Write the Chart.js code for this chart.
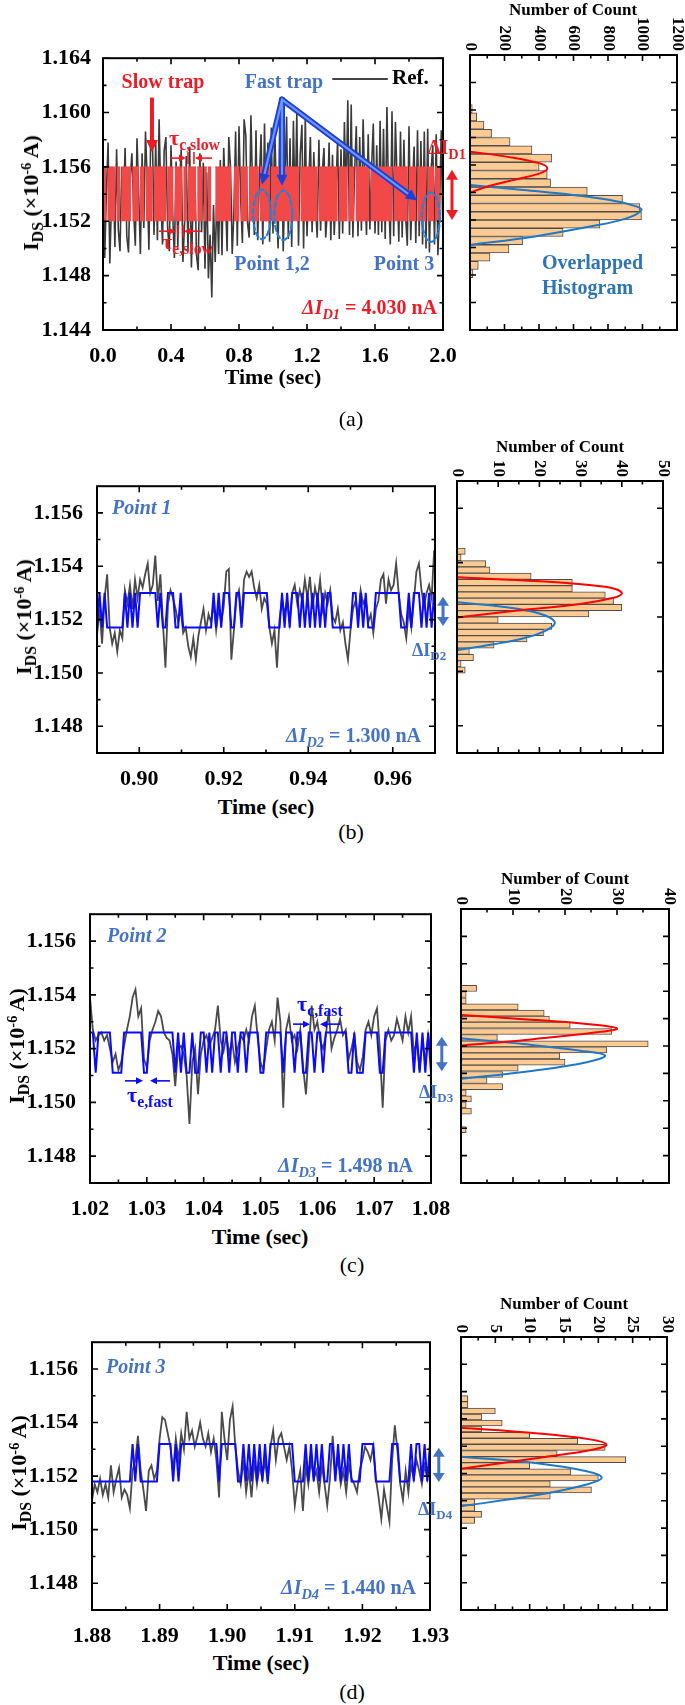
<!DOCTYPE html>
<html>
<head>
<meta charset="utf-8">
<script src="https://cdn.jsdelivr.net/npm/chart.js@4/dist/chart.umd.min.js"></script>
<style>
  html, body { margin: 0; padding: 0; background: #fff; }
  body { position: relative; width: 685px; height: 1705px; overflow: hidden; font-family: "Liberation Serif", "Times New Roman", serif; }
  canvas { position: absolute; }
  .t { position: absolute; white-space: nowrap; font-weight: bold; font-size: 20px; line-height: 1; z-index: 5; }
  .t sub { font-size: 0.72em; vertical-align: baseline; position: relative; top: 0.32em; }
  .t sup { font-size: 0.65em; vertical-align: baseline; position: relative; top: -0.5em; }
</style>
</head>
<body>
<script>
// ---------- (a) full 2 s record ----------
var tA = [0, 0.01];                 // first sample, step (sec)
var grayA = [                       // nA
  1156.8,1149.3,1154.2,1157.8,1148.9,1153.5,1156.0,1150.1,1157.3,1151.4,
  1149.8,1156.0,1153.1,1157.4,1150.9,1149.7,1155.2,1157.0,1152.8,1150.2,
  1158.1,1154.0,1149.6,1157.0,1151.5,1158.6,1155.0,1149.9,1157.6,1158.9,
  1151.0,1157.9,1150.6,1159.5,1153.8,1150.3,1157.2,1158.2,1151.6,1149.8,
  1157.6,1152.5,1149.3,1156.4,1150.1,1154.6,1157.3,1149.0,1151.9,1156.8,
  1149.8,1157.5,1148.6,1153.4,1155.8,1149.5,1148.4,1157.0,1151.2,1156.3,
  1148.5,1155.6,1147.8,1151.0,1146.4,1153.2,1149.0,1154.0,1149.6,1156.5,
  1149.5,1157.4,1154.1,1149.8,1158.2,1156.0,1149.6,1152.7,1158.6,1150.2,
  1159.0,1153.6,1150.4,1159.5,1158.3,1151.9,1150.8,1159.8,1154.4,1151.0,
  1158.7,1150.6,1155.3,1158.4,1150.3,1159.2,1152.0,1157.8,1150.5,1158.9,
  1151.1,1159.1,1153.7,1150.0,1159.9,1158.6,1149.8,1155.0,1159.7,1150.7,
  1158.1,1150.1,1159.4,1152.6,1160.0,1150.2,1156.9,1159.1,1150.0,1159.8,
  1150.9,1154.8,1158.2,1151.2,1157.1,1153.3,1150.8,1158.0,1151.3,1155.6,
  1157.4,1150.8,1152.9,1157.8,1150.6,1156.9,1151.0,1154.2,1158.0,1150.7,
  1157.3,1151.1,1159.3,1153.5,1160.9,1151.0,1160.6,1150.8,1155.7,1159.0,
  1150.9,1158.2,1151.3,1159.5,1154.6,1151.0,1158.4,1151.4,1156.0,1159.2,
  1151.1,1157.6,1151.0,1159.4,1151.2,1158.8,1150.7,1160.4,1153.9,1150.3,
  1160.1,1150.9,1159.3,1155.1,1150.5,1158.6,1150.8,1158.0,1152.4,1150.2,
  1159.0,1150.6,1154.3,1157.5,1150.4,1158.7,1150.9,1157.9,1150.3,1158.6,
  1150.0,1158.8,1149.7,1155.8,1157.6,1150.3,1158.4,1149.5,1153.1,1158.7,1150.1
];
var redLevels = [1.152, 1.156];
var redSpan = [0.006, 1.986];
var redGaps = [[0.019,0.025],[0.074,0.080],[0.101,0.107],[0.166,0.172],[0.211,0.217],[0.244,0.250],
  [0.293,0.299],[0.372,0.378],[0.415,0.421],[0.466,0.472],[0.493,0.499],[0.548,0.554],[0.587,0.593],
  [0.611,0.617],[0.637,0.660],[0.754,0.760],[0.764,0.770],[0.803,0.809],[0.852,0.858],[0.917,0.923],
  [0.982,0.988],[1.155,1.161],[1.263,1.269],[1.381,1.387],[1.440,1.446],[1.479,1.485],[1.567,1.573],
  [1.704,1.710],[1.793,1.799],[1.842,1.848],[1.901,1.907],[1.947,1.953]];
var ticksXA = [0, 0.4, 0.8, 1.2, 1.6, 2.0];
var ticksYA = [1.144, 1.148, 1.152, 1.156, 1.160, 1.164];
var binsA = [1.1601,1.1595,1.1589,1.1583,1.1577,1.1571,1.1565,1.1559,1.1553,1.1547,1.1541,
  1.1535,1.1529,1.1523,1.1517,1.1511,1.1505,1.1499,1.1493,1.1487,1.1481];
var countsA = [13,39,81,125,232,359,473,401,448,467,680,884,985,994,753,540,305,226,116,48,17];
var redFitA = [[1.15697,0],[1.15661,212],[1.15612,405],[1.15576,448],[1.15539,405],[1.15491,251],[1.15442,97],[1.15399,0]];
var blueFitA = [[1.15455,0],[1.15418,309],[1.15382,598],[1.15345,811],[1.15309,936],[1.15273,994],[1.15212,907],[1.15152,695],[1.15079,367],[1.15018,0]];
var countTicksA = [0, 200, 400, 600, 800, 1000, 1200];
var histYA = [1.146,1.148,1.150,1.152,1.154,1.156,1.158,1.160,1.162];

// ---------- (b) Point 1 ----------
var tB = [0.89, 0.0006];
var grayB = [
  1151.4,1152.4,1151.1,1152.8,1153.7,1151.7,1151.1,1151.5,1150.8,1151.6,
  1151.3,1153.1,1152.6,1153.3,1152.4,1153.5,1152.8,1153.5,1153.2,1153.7,
  1154.1,1153.0,1153.3,1154.4,1152.7,1153.7,1151.9,1150.2,1152.6,1153.1,
  1152.8,1152.4,1151.9,1152.4,1151.5,1151.7,1151.0,1150.6,1151.3,1150.5,
  1151.4,1151.9,1152.4,1151.6,1152.2,1151.9,1152.6,1151.6,1152.4,1151.9,
  1152.5,1153.8,1153.9,1150.5,1151.6,1152.8,1153.1,1152.0,1153.5,1153.8,
  1153.6,1153.8,1153.2,1152.8,1153.3,1152.4,1152.8,1152.6,1151.7,1151.1,
  1151.6,1150.2,1152.0,1152.8,1152.2,1152.7,1151.9,1153.0,1153.3,1152.6,
  1153.1,1152.7,1153.5,1152.8,1153.6,1152.4,1153.2,1152.7,1153.5,1152.4,
  1153.0,1152.6,1153.1,1152.1,1151.9,1152.4,1151.6,1151.9,1151.1,1150.5,
  1151.6,1152.4,1152.7,1152.1,1153.1,1152.6,1152.8,1151.9,1152.2,1151.5,
  1152.4,1152.7,1153.5,1153.7,1152.6,1153.5,1153.1,1153.3,1154.1,1153.0,
  1152.2,1151.9,1151.3,1152.4,1151.7,1152.7,1153.8,1154.1,1153.1,1152.5,
  1153.0,1153.3,1152.8,1154.6
];
var rtnB = [0,1,0,1,0,0,0,0,0,0,0, 1,0,1,0,1,0,1,1,1, 1,1,1,1,0,1,0,0,1,1, 1,0,0,1,0,0,0,
  0,0,0,0,0,0,0,0, 0,1,0,1,0,1,1,1,0,0,1,1,0, 1,1,1,1,1,1,1,1,1,1,0, 0,0,0,0,
  1,0,1,0,1,1,1,0,1,0,1,0,1,0,1,0,1,0,1,1, 0,0,0,0,0,0,0,0, 1,1,0,1,0,1,0,0,0,1,
  1,1,1,1,1,1,1,1,1, 0,0,0,1,0, 1,1,1,0,1,0,1,0,1];
var levelsB = [1.1517, 1.1530];
var ticksXB = [0.90, 0.92, 0.94, 0.96];
var ticksY = [1.148, 1.150, 1.152, 1.154, 1.156];
var binsB = [1.15442,1.15419,1.15396,1.15373,1.15350,1.15327,1.15304,1.15281,1.15258,1.15235,
  1.15212,1.15189,1.15166,1.15143,1.15120,1.15097,1.15074,1.15051,1.15028,1.15005];
var countsB = [2,1,7,8,18,28,28,36,38,40,32,10,23,21,17,9,3,4,1,2];
var redFitB = [[1.15346,0],[1.15331,20.2],[1.15313,34.8],[1.15301,38.8],[1.15286,40],[1.15271,38],[1.15248,29.9],[1.15224,14.6],[1.15198,0]];
var blueFitB = [[1.15254,0],[1.15236,12.1],[1.15212,20.2],[1.15182,23.7],[1.15152,21.8],[1.15122,16.2],[1.15098,8.1],[1.15078,0]];
var countTicksB = [0, 10, 20, 30, 40, 50];

// ---------- (c) Point 2 ----------
var tC = [1.02, 0.0005];
var grayC = [
  1153.9,1152.7,1152.3,1152.5,1152.6,1152.3,1152.5,1152.0,1151.5,1151.8,
  1151.2,1151.5,1152.1,1152.7,1153.2,1153.9,1154.2,1153.2,1153.5,1151.6,
  1151.3,1152.3,1152.7,1153.0,1153.4,1153.2,1152.6,1152.4,1152.3,1151.8,
  1150.6,1152.0,1152.1,1151.8,1151.0,1149.2,1151.5,1152.0,1150.3,1151.8,
  1152.3,1152.5,1152.1,1152.4,1152.7,1153.6,1152.3,1151.9,1152.5,1151.8,
  1152.3,1151.5,1152.0,1152.5,1152.3,1152.7,1152.3,1153.2,1153.6,1152.4,
  1151.5,1151.2,1152.0,1152.7,1153.0,1152.3,1153.9,1153.0,1149.8,1152.7,
  1153.2,1152.3,1152.5,1152.0,1152.7,1151.3,1150.3,1152.0,1153.6,1152.7,
  1153.0,1152.3,1152.0,1152.5,1153.4,1152.0,1152.4,1152.7,1153.1,1152.5,
  1152.7,1151.6,1152.0,1152.5,1151.5,1151.2,1151.7,1152.7,1153.0,1152.5,
  1153.2,1153.5,1152.0,1149.8,1152.3,1152.7,1152.3,1152.5,1153.1,1152.7,
  1152.3,1153.2,1152.6,1153.2,1151.8,1152.3,1151.2,1152.3,1151.5,1152.5,
  1151.8
];
var rtnC = [1,1,0,1,1,1,1,1,0,0,0,0, 1,1,1,1,1,1,1, 0,0, 1,1,1,1,1,1,1,1,1,
  0,1,0,1,0,0,1,0,0,1, 1,0,1,0,1,1,0,1,1,0, 1,1,0,1,1,0,1,1,1,1, 0,0,1,1,1,1,1,1,0,1,
  1,1,0,1,1,0,0,1,1,0, 1,1,0,1,1,1,1,1,1,1, 1,0,0,1,0,0,0,1,1,1, 1,1,0,0,1,1,1,1,1,1,
  1,1,1,1,0,1,0,1,0,1,0];
var levelsC = [1.1511, 1.1526];
var ticksXC = [1.02, 1.03, 1.04, 1.05, 1.06, 1.07, 1.08];
var binsC = [1.15410,1.15388,1.15365,1.15343,1.15320,1.15298,1.15276,1.15253,1.15231,1.15208,1.15186,1.15164,
  1.15141,1.15119,1.15096,1.15074,1.15052,1.15029,1.15007,1.14985,1.14962,1.14940,1.14918,1.14895];
var countsC = [3,1,1,11,16,17,21,29,7,36,28,19,20,11,8,5,8,1,2,1,2,0,0,1];
var redFitC = [[1.15313,0],[1.15298,12],[1.15280,24.2],[1.15264,30],[1.15250,26.1],[1.15225,13.9],[1.15201,0]];
var blueFitC = [[1.15228,0],[1.15207,12],[1.15183,22.9],[1.15165,27.7],[1.15141,24.2],[1.15110,13.9],[1.15080,0]];
var countTicksC = [0, 10, 20, 30, 40];
var histYCD = [1.148,1.149,1.150,1.151,1.152,1.153,1.154,1.155,1.156];

// ---------- (d) Point 3 ----------
var tD = [1.88, 0.0004];
var grayD = [
  1151.1,1151.7,1151.4,1151.9,1151.3,1151.7,1151.2,1152.4,1151.4,1151.9,
  1152.3,1151.2,1151.5,1151.3,1150.8,1152.2,1152.6,1153.5,1152.2,1151.5,
  1150.7,1152.2,1152.4,1151.9,1152.2,1153.4,1154.2,1154.1,1153.6,1153.1,
  1152.2,1153.4,1152.6,1153.6,1153.0,1154.4,1153.4,1153.7,1153.1,1153.5,
  1154.0,1153.4,1153.1,1153.6,1152.9,1153.4,1152.6,1151.2,1154.4,1153.4,
  1152.6,1154.1,1154.6,1153.1,1152.2,1151.7,1152.6,1151.4,1152.2,1151.2,
  1152.6,1151.7,1152.4,1151.9,1152.6,1151.7,1153.1,1153.7,1152.6,1153.4,
  1153.6,1153.1,1152.6,1153.1,1152.2,1150.9,1151.7,1152.2,1150.7,1152.4,
  1151.7,1152.6,1151.9,1152.2,1151.4,1152.4,1151.7,1150.9,1151.9,1153.5,
  1152.2,1152.6,1151.7,1152.2,1151.4,1152.4,1151.9,1151.7,1151.4,1152.2,
  1152.6,1153.1,1152.9,1152.6,1153.1,1151.9,1151.2,1150.4,1151.5,1150.9,
  1150.3,1152.6,1153.9,1152.9,1151.7,1151.1,1152.2,1151.4,1152.4,1151.9,
  1152.6,1152.2,1151.7,1152.4,1151.9,1152.6
];
var rtnD = [0,0,0,0,0,0,0,0,0,0,0,0,0,0,0, 1,0,1,0,0,0,0,0,0,0, 1,1,1,1,1, 0,1,0,1,1,
  1,1,1,1,1,1,1,1,1,1,1,1, 0, 1,1,1,1,1,1, 0,0,1,0,1,0,1,0,1,0,1,0, 1,1,1,1,1,1,1,1,1,
  0,0,0,0, 1,0,1,0,1,0,1,0,0,1, 1,0,1,0,1,0,1,0,0,0,0, 1,1,1,1,1, 0,0,0,0,0,0, 1,1,1,
  0,0,0,0, 1,0,1,1,0,1,0,1];
var levelsD = [1.1518, 1.1532];
var ticksXD = [1.88, 1.89, 1.90, 1.91, 1.92, 1.93];
var binsD = [1.15474,1.15452,1.15429,1.15407,1.15385,1.15363,1.15340,1.15318,1.15296,1.15273,1.15251,
  1.15229,1.15206,1.15184,1.15162,1.15140,1.15117,1.15095,1.15073,1.15050,1.15028];
var countsD = [1,1,5,3,6,3,10,17,21,14,24,10,16,20,13,19,13,2,2,3,2];
var redFitD = [[1.15368,0],[1.15349,10.1],[1.15325,18.8],[1.15306,21.2],[1.15288,19.3],[1.15258,11.5],[1.15217,0]];
var blueFitD = [[1.15261,0],[1.15239,10.5],[1.15208,18.3],[1.15184,20.5],[1.15160,18.3],[1.15123,11.5],[1.15080,0]];
var countTicksD = [0, 5, 10, 15, 20, 25, 30];

// ---------- helpers ----------
var FONT = '"Liberation Serif", "Times New Roman", serif';
var TICKFONT = { family: FONT, size: 22, weight: 'bold' };
var RED = '#ed1c24', BLUET = '#4472c4', RTNBLUE = '#0a0aff', GRAY = '#4a4a4a';

function series(t, vals) { return vals.map(function (v, i) { return { x: t[0] + i * t[1], y: v / 1000 }; }); }
function rtn(t, st, lv) { return st.map(function (s, i) { return { x: t[0] + i * t[1], y: lv[s] }; }); }
function bars(b, c) { return b.map(function (v, i) { return { x: c[i], y: v }; }); }
function fit(p) { return p.map(function (q) { return { x: q[1], y: q[0] }; }); }
function band() {
  var pts = [], cur = redSpan[0];
  redGaps.concat([[redSpan[1], redSpan[1]]]).forEach(function (g) {
    pts.push({ x: cur, y: redLevels[1] }, { x: g[0], y: redLevels[1] }, { x: g[0], y: null });
    cur = g[1];
  });
  return pts;
}

function place(box, m) {
  var cv = document.createElement('canvas');
  cv.width = box[2] - box[0] + m[0] + m[2];
  cv.height = box[3] - box[1] + m[1] + m[3];
  cv.style.left = (box[0] - m[0]) + 'px';
  cv.style.top = (box[1] - m[1]) + 'px';
  document.body.appendChild(cv);
  return cv;
}

function minors(lo, hi, step, majors) {
  var out = [];
  if (!step) return out;
  var n = Math.round((hi - lo) / step);
  for (var i = 1; i < n; i++) {
    var v = lo + i * step;
    if (!majors.some(function (m) { return Math.abs(m - v) < step / 10; })) out.push(v);
  }
  return out;
}

function frame(cfg) {
  return {
    id: 'frame',
    afterDatasetsDraw: function (chart) {
      var a = chart.chartArea, ctx = chart.ctx, sx = chart.scales.x, sy = chart.scales.y;
      ctx.save();
      ctx.strokeStyle = '#000';
      ctx.lineWidth = 1.6;
      ctx.beginPath();
      function xt(v, len) { var p = sx.getPixelForValue(v); ctx.moveTo(p, a.bottom); ctx.lineTo(p, a.bottom - len); ctx.moveTo(p, a.top); ctx.lineTo(p, a.top + len); }
      function yt(v, len) { var p = sy.getPixelForValue(v); ctx.moveTo(a.left, p); ctx.lineTo(a.left + len, p); ctx.moveTo(a.right, p); ctx.lineTo(a.right - len, p); }
      cfg.xMajor.forEach(function (v) { xt(v, 6); });
      minors(sx.min, sx.max, cfg.xMinor, cfg.xMajor).forEach(function (v) { xt(v, 3.5); });
      cfg.yMajor.forEach(function (v) { yt(v, 6); });
      minors(sy.min, sy.max, cfg.yMinor, cfg.yMajor).forEach(function (v) { yt(v, 3.5); });
      ctx.stroke();
      ctx.lineWidth = 2;
      ctx.strokeRect(a.left, a.top, a.right - a.left, a.bottom - a.top);
      ctx.restore();
    }
  };
}

function topLabels(vals) {
  return {
    id: 'toplab',
    afterDraw: function (chart) {
      var ctx = chart.ctx, sx = chart.scales.x, top = chart.chartArea.top;
      ctx.save();
      ctx.font = 'bold 17px ' + FONT;
      ctx.fillStyle = '#000';
      ctx.textAlign = 'right';
      ctx.textBaseline = 'middle';
      vals.forEach(function (v) {
        ctx.save();
        ctx.translate(sx.getPixelForValue(v), top - 4);
        ctx.rotate(Math.PI / 2);
        ctx.fillText(String(v), 0, 0);
        ctx.restore();
      });
      ctx.restore();
    }
  };
}

function head(ctx, x, y, a, len, hw) {
  var c = Math.cos(a), s = Math.sin(a);
  ctx.beginPath();
  ctx.moveTo(x, y);
  ctx.lineTo(x - c * len - s * hw, y - s * len + c * hw);
  ctx.lineTo(x - c * len + s * hw, y - s * len - c * hw);
  ctx.closePath();
  ctx.fill();
}
function arrow(ctx, x1, y1, x2, y2, col, lw, len, hw, both) {
  var a = Math.atan2(y2 - y1, x2 - x1), c = Math.cos(a), s = Math.sin(a);
  ctx.strokeStyle = col; ctx.fillStyle = col; ctx.lineWidth = lw;
  ctx.beginPath();
  ctx.moveTo(both ? x1 + c * len * 0.8 : x1, both ? y1 + s * len * 0.8 : y1);
  ctx.lineTo(x2 - c * len * 0.8, y2 - s * len * 0.8);
  ctx.stroke();
  head(ctx, x2, y2, a, len, hw);
  if (both) head(ctx, x1, y1, a + Math.PI, len, hw);
}
function tauMark(ctx, X, Y, v, l, r, barsAt, col) {
  arrow(ctx, X(l[0]), Y(v), X(l[1]), Y(v), col, 1.6, 7, 3.5);
  arrow(ctx, X(r[0]), Y(v), X(r[1]), Y(v), col, 1.6, 7, 3.5);
  ctx.beginPath();
  barsAt.forEach(function (b) { ctx.moveTo(X(b), Y(v) - 6); ctx.lineTo(X(b), Y(v) + 6); });
  ctx.stroke();
}

function ann(fn) {
  return {
    id: 'ann',
    afterDatasetsDraw: function (chart) {
      var ctx = chart.ctx;
      ctx.save();
      fn(ctx, function (v) { return chart.scales.x.getPixelForValue(v); },
              function (v) { return chart.scales.y.getPixelForValue(v); });
      ctx.restore();
    }
  };
}

function traceChart(box, o) {
  var m = [75, 14, 30, 36];
  var cv = place(box, m);
  return new Chart(cv, {
    type: 'line',
    data: { datasets: o.datasets },
    options: {
      responsive: false, animation: false, devicePixelRatio: 1,
      layout: { padding: { left: 0, top: m[1], right: m[2], bottom: 0 } },
      plugins: { legend: { display: false }, tooltip: { enabled: false } },
      elements: { point: { radius: 0 }, line: { tension: 0 } },
      scales: {
        x: {
          type: 'linear', min: o.xr[0], max: o.xr[1],
          grid: { display: false }, border: { display: false },
          afterBuildTicks: function (s) { s.ticks = o.xt.map(function (v) { return { value: v }; }); },
          afterFit: function (s) { s.height = m[3]; },
          ticks: { autoSkip: false, maxRotation: 0, padding: 5, color: '#000', font: TICKFONT,
                   callback: function (v) { return v.toFixed(o.xd); } }
        },
        y: {
          type: 'linear', min: o.yr[0], max: o.yr[1],
          grid: { display: false }, border: { display: false },
          afterBuildTicks: function (s) { s.ticks = o.yt.map(function (v) { return { value: v }; }); },
          afterFit: function (s) { s.width = m[0]; },
          ticks: { autoSkip: false, padding: o.ypad, color: '#000', font: TICKFONT,
                   callback: function (v) { return v.toFixed(3); } }
        }
      }
    },
    plugins: [frame({ xMajor: o.xt, xMinor: o.xMinor, yMajor: o.yt, yMinor: o.yMinor }), ann(o.ann)]
  });
}

function histChart(box, o) {
  var m = [4, 52, 12, 6];
  var cv = place(box, m);
  return new Chart(cv, {
    type: 'bar',
    data: {
      datasets: [
        { type: 'line', data: fit(o.red), borderColor: '#ff0000', borderWidth: 2, tension: 0.4, pointRadius: 0, order: 1 },
        { type: 'line', data: fit(o.blue), borderColor: '#1f78c8', borderWidth: 2, tension: 0.4, pointRadius: 0, order: 2 },
        { type: 'bar', data: bars(o.bins, o.counts), backgroundColor: '#fdca91', borderColor: '#4d4d4d',
          borderWidth: 1, borderSkipped: false, barPercentage: 1, categoryPercentage: 1, order: 3 }
      ]
    },
    options: {
      indexAxis: 'y', responsive: false, animation: false, devicePixelRatio: 1,
      layout: { padding: { left: m[0], top: m[1], right: m[2], bottom: m[3] } },
      plugins: { legend: { display: false }, tooltip: { enabled: false } },
      scales: {
        x: { type: 'linear', display: false, offset: false, min: 0, max: o.xt[o.xt.length - 1] },
        y: { type: 'linear', display: false, offset: false, min: o.yr[0], max: o.yr[1] }
      }
    },
    plugins: [frame({ xMajor: o.xt, xMinor: o.xMinor, yMajor: o.yt, yMinor: 0 }), topLabels(o.xt)]
  });
}

function txt(html, x, y, css, align) {
  var d = document.createElement('div');
  d.className = 't';
  d.innerHTML = html;
  if (css) d.style.cssText = css;
  d.style.left = x + 'px';
  d.style.top = y + 'px';
  var tx = align === 'l' ? '0' : (align === 'r' ? '-100%' : '-50%');
  d.style.transform = align === 'rot' ? 'translate(-50%,-50%) rotate(-90deg)' : 'translate(' + tx + ',-50%)';
  document.body.appendChild(d);
}

function rtnSets(gray, rtnLine) {
  return [
    { data: rtnLine, borderColor: RTNBLUE, borderWidth: 2, order: 1 },
    { data: gray, borderColor: GRAY, borderWidth: 1.8, order: 2 }
  ];
}

// ---------- (a) ----------
traceChart([103, 55, 443, 330], {
  xr: [0, 2], yr: [1.144, 1.164], xt: ticksXA, yt: ticksYA, xd: 1, ypad: 4, xMinor: 0.2, yMinor: 0.002,
  datasets: [
    { data: band(), borderColor: '#f24848', backgroundColor: '#f24848', borderWidth: 1,
      fill: { value: redLevels[0] }, spanGaps: false, order: 1 },
    { data: series(tA, grayA), borderColor: '#3a3a3a', borderWidth: 1.6, order: 2 }
  ],
  ann: function (ctx, X, Y) {
    arrow(ctx, X(0.288), Y(1.1611), X(0.288), Y(1.1571), RED, 4, 12, 6);
    tauMark(ctx, X, Y, 1.15665, [0.394, 0.488], [0.641, 0.541], [0.500, 0.535], RED);
    tauMark(ctx, X, Y, 1.15127, [0.329, 0.429], [0.576, 0.476], [0.441, 0.471], RED);
    // fast trap pointers
    var s = [X(1.053), Y(1.16095)];
    var ends = [[0.935, 1.15469], [1.053, 1.15462], [1.847, 1.15353]];
    ctx.lineCap = 'round';
    ends.forEach(function (e) {
      var x2 = X(e[0]), y2 = Y(e[1]), a = Math.atan2(y2 - s[1], x2 - s[0]);
      ctx.strokeStyle = '#1d3fd8'; ctx.lineWidth = 6;
      ctx.beginPath(); ctx.moveTo(s[0], s[1]); ctx.lineTo(x2 - 8 * Math.cos(a), y2 - 8 * Math.sin(a)); ctx.stroke();
    });
    ends.forEach(function (e) {
      var x2 = X(e[0]), y2 = Y(e[1]), a = Math.atan2(y2 - s[1], x2 - s[0]);
      ctx.strokeStyle = '#6b95f7'; ctx.lineWidth = 2.2;
      ctx.beginPath(); ctx.moveTo(s[0], s[1]); ctx.lineTo(x2 - 8 * Math.cos(a), y2 - 8 * Math.sin(a)); ctx.stroke();
      ctx.fillStyle = '#1d3fd8'; head(ctx, x2, y2, a, 11, 5.5);
    });
    // dashed ellipses
    ctx.setLineDash([5, 3]);
    ctx.strokeStyle = '#2a7fd4'; ctx.lineWidth = 2.2;
    [[0.935, 1.15251], [1.061, 1.15244], [1.929, 1.1523]].forEach(function (e) {
      ctx.beginPath();
      ctx.ellipse(X(e[0]), Y(e[1]), X(e[0] + 0.053) - X(e[0]), Y(e[1]) - Y(e[1] + 0.00182), 0, 0, Math.PI * 2);
      ctx.stroke();
    });
    ctx.setLineDash([]);
    // legend line
    ctx.strokeStyle = '#444'; ctx.lineWidth = 2;
    ctx.beginPath(); ctx.moveTo(X(1.353), Y(1.16247)); ctx.lineTo(X(1.671), Y(1.16247)); ctx.stroke();
    // delta I arrow
    arrow(ctx, X(2.053), Y(1.1558), X(2.053), Y(1.1521), RED, 3, 10, 6, true);
  }
});
histChart([470, 55, 677, 330], {
  yr: [1.144, 1.164], xt: countTicksA, xMinor: 100, yt: histYA,
  bins: binsA, counts: countsA, red: redFitA, blue: blueFitA
});

// ---------- (b) ----------
traceChart([97, 481, 435, 753], {
  xr: [0.89, 0.97], yr: [1.147, 1.157], xt: ticksXB, yt: ticksY, xd: 2, ypad: 6, xMinor: 0.01, yMinor: 0.001,
  datasets: rtnSets(series(tB, grayB), rtn(tB, rtnB, levelsB)),
  ann: function (ctx, X, Y) { arrow(ctx, X(0.9719), Y(1.15286), X(0.9719), Y(1.15176), BLUET, 3, 9, 6, true); }
});
histChart([457, 481, 663, 753], {
  yr: [1.147, 1.157], xt: countTicksB, xMinor: 5, yt: ticksY,
  bins: binsB, counts: countsB, red: redFitB, blue: blueFitB
});

// ---------- (c) ----------
traceChart([90, 909, 431, 1183], {
  xr: [1.02, 1.08], yr: [1.147, 1.157], xt: ticksXC, yt: ticksY, xd: 2, ypad: 6, xMinor: 0.005, yMinor: 0.001,
  datasets: rtnSets(series(tC, grayC), rtn(tC, rtnC, levelsC)),
  ann: function (ctx, X, Y) {
    arrow(ctx, X(1.0819), Y(1.15244), X(1.0819), Y(1.15116), BLUET, 3, 9, 6, true);
    tauMark(ctx, X, Y, 1.1508, [1.02616, 1.02933], [1.03408, 1.03056], [], RTNBLUE);
    tauMark(ctx, X, Y, 1.15291, [1.05572, 1.05871], [1.06399, 1.06047], [], RTNBLUE);
  }
});
histChart([461, 909, 669, 1183], {
  yr: [1.147, 1.157], xt: countTicksC, xMinor: 5, yt: histYCD,
  bins: binsC, counts: countsC, red: redFitC, blue: blueFitC
});

// ---------- (d) ----------
traceChart([92, 1337, 430, 1610], {
  xr: [1.88, 1.93], yr: [1.147, 1.157], xt: ticksXD, yt: ticksY, xd: 2, ypad: 6, xMinor: 0.005, yMinor: 0.001,
  datasets: rtnSets(series(tD, grayD), rtn(tD, rtnD, levelsD)),
  ann: function (ctx, X, Y) { arrow(ctx, X(1.9313), Y(1.15306), X(1.9313), Y(1.15178), BLUET, 3, 9, 6, true); }
});
histChart([461, 1337, 667, 1610], {
  yr: [1.147, 1.157], xt: countTicksD, xMinor: 2.5, yt: histYCD,
  bins: binsD, counts: countsD, red: redFitD, blue: blueFitD
});

// ---------- text ----------
var YT = 'I<sub>DS</sub> (×10<sup>-6</sup> A)';
var big = 'font-size:22px';
var reg = 'font-size:22px;font-weight:normal';
var hist = 'font-size:17px';
var tau = 'font-size:22px;color:';

txt(YT, 31, 193, big, 'rot');
txt('Time (sec)', 273, 377, big);
txt('(a)', 351, 419, reg);
txt('Number of Count', 573, 9, hist);
txt('Slow trap', 163, 81, 'color:' + RED);
txt('Fast trap', 284, 81, 'color:' + BLUET);
txt('Ref.', 392, 77, 'font-size:21px', 'l');
txt('τ<sub>c,slow</sub>', 169, 138, tau + RED, 'l');
txt('τ<sub>e,slow</sub>', 162, 242, tau + RED, 'l');
txt('Point 1,2', 272, 263, 'color:' + BLUET);
txt('Point 3', 404, 263, 'color:' + BLUET);
txt('<i>ΔI<sub>D1</sub></i> = 4.030 nA', 437, 307, 'color:' + RED, 'r');
txt('ΔI<sub>D1</sub>', 428, 147, 'color:' + RED, 'l');
txt('Overlapped<br>Histogram', 542, 275, 'color:#2e75b6;line-height:25px', 'l');

txt(YT, 24, 617, big, 'rot');
txt('Time (sec)', 266, 807, big);
txt('(b)', 351, 832, reg);
txt('Number of Count', 560, 446, hist);
txt('<i>Point 1</i>', 112, 507, 'color:' + BLUET, 'l');
txt('<i>ΔI<sub>D2</sub></i> = 1.300 nA', 421, 735, 'color:' + BLUET, 'r');
txt('ΔI<sub>D2</sub>', 412, 650, 'font-size:18px;color:' + BLUET, 'l');

txt(YT, 17, 1046, big, 'rot');
txt('Time (sec)', 260, 1237, big);
txt('(c)', 352, 1265, reg);
txt('Number of Count', 565, 878, hist);
txt('<i>Point 2</i>', 107, 935, 'color:' + BLUET, 'l');
txt('<i>ΔI<sub>D3</sub></i> = 1.498 nA', 413, 1165, 'color:' + BLUET, 'r');
txt('ΔI<sub>D3</sub>', 419, 1092, 'font-size:18px;color:' + BLUET, 'l');
txt('τ<sub>e,fast</sub>', 127, 1095, tau + RTNBLUE, 'l');
txt('τ<sub>c,fast</sub>', 297, 1004, tau + RTNBLUE, 'l');

txt(YT, 19, 1473, big, 'rot');
txt('Time (sec)', 261, 1663, big);
txt('(d)', 352, 1692, reg);
txt('Number of Count', 564, 1303, hist);
txt('<i>Point 3</i>', 106, 1366, 'color:' + BLUET, 'l');
txt('<i>ΔI<sub>D4</sub></i> = 1.440 nA', 416, 1587, 'color:' + BLUET, 'r');
txt('ΔI<sub>D4</sub>', 418, 1509, 'font-size:18px;color:' + BLUET, 'l');
</script>
</body>
</html>
